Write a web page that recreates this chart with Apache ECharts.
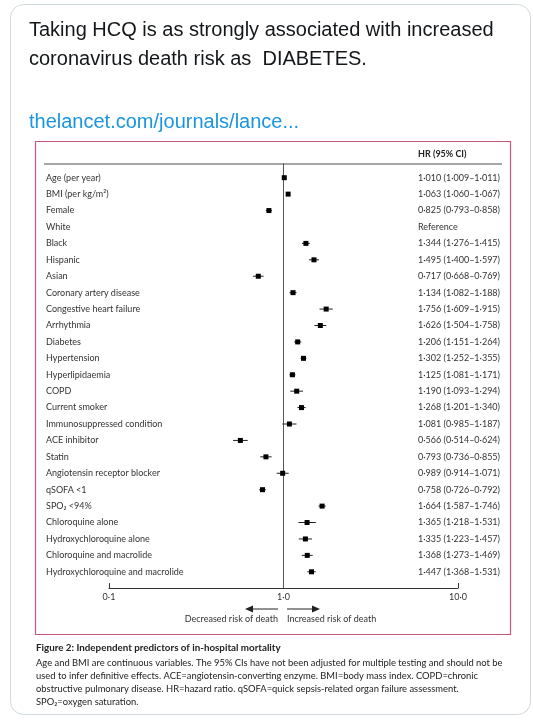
<!DOCTYPE html>
<html>
<head>
<meta charset="utf-8">
<script src="https://cdn.jsdelivr.net/npm/echarts@6/dist/echarts.min.js"></script>
<style>
html,body{margin:0;padding:0;background:#fff;}
#chart{width:533px;height:721px;}
</style>
</head>
<body>
<div id="chart"></div>
<script>
var labels = ["Age (per year)","BMI (per kg/m²)","Female","White","Black","Hispanic","Asian","Coronary artery disease","Congestive heart failure","Arrhythmia","Diabetes","Hypertension","Hyperlipidaemia","COPD","Current smoker","Immunosuppressed condition","ACE inhibitor","Statin","Angiotensin receptor blocker","qSOFA <1","SPO₂ <94%","Chloroquine alone","Hydroxychloroquine alone","Chloroquine and macrolide","Hydroxychloroquine and macrolide"];
var hr = [1.010,1.063,0.825,null,1.344,1.495,0.717,1.134,1.756,1.626,1.206,1.302,1.125,1.190,1.268,1.081,0.566,0.793,0.989,0.758,1.664,1.365,1.335,1.368,1.447];
var lo = [1.009,1.060,0.793,null,1.276,1.400,0.668,1.082,1.609,1.504,1.151,1.252,1.081,1.093,1.201,0.985,0.514,0.736,0.914,0.726,1.587,1.218,1.223,1.273,1.368];
var hi = [1.011,1.067,0.858,null,1.415,1.597,0.769,1.188,1.915,1.758,1.264,1.355,1.171,1.294,1.340,1.187,0.624,0.855,1.071,0.792,1.746,1.531,1.457,1.469,1.531];
var xTicks = [0.1, 1, 10];
var refText = "Reference";

function fmt(v){ return v.toFixed(3).replace('.', '·'); }
var hrText = hr.map(function(v,i){
  return v == null ? refText : fmt(v) + ' (' + fmt(lo[i]) + '–' + fmt(hi[i]) + ')';
});
var ciData = [];
hr.forEach(function(v,i){ if(v != null) ciData.push([lo[i], hi[i], v, i]); });

var FF = 'Lato, "Open Sans", sans-serif';
var TC = '#333';
var chart = echarts.init(document.getElementById('chart'), null, {renderer:'canvas'});

var option = {
  animation:false,
  backgroundColor:'#fff',
  grid:[
    {left:109, right:75, top:169.5, bottom:141},
    {left:109, right:75, top:163.5, bottom:133}
  ],
  xAxis:[
    {type:'log', logBase:10, min:0.1, max:10, gridIndex:0, offset:8,
     axisLine:{show:true, lineStyle:{color:'#333', width:1}},
     axisTick:{show:true, inside:true, length:5, lineStyle:{color:'#333'}},
     axisLabel:{margin:5, fontFamily:FF, fontSize:9, color:TC,
       formatter:function(v){
         for (var k=0;k<xTicks.length;k++){ if (Math.abs(v-xTicks[k])<1e-9) return xTicks[k].toFixed(1).replace('.', '·'); }
         return '';
       }},
     splitLine:{show:false}},
    {type:'log', logBase:10, min:0.1, max:10, gridIndex:1, show:false}
  ],
  yAxis:[
    {type:'category', data:labels, inverse:true, gridIndex:0, position:'left',
     axisLine:{show:false}, axisTick:{show:false},
     axisLabel:{align:'left', margin:63, fontFamily:FF, fontSize:9, color:TC}},
    {type:'category', data:hrText, inverse:true, gridIndex:0, position:'right', offset:-40,
     axisLine:{show:false}, axisTick:{show:false},
     axisLabel:{align:'left', margin:0, fontFamily:FF, fontSize:9, color:TC}},
    {type:'value', min:0, max:1, gridIndex:1, show:false}
  ],
  series:[
    {type:'line', xAxisIndex:1, yAxisIndex:2, data:[[1,0],[1,1]], symbol:'none',
     lineStyle:{color:'#555', width:1}, silent:true, z:1},
    {type:'custom', xAxisIndex:0, yAxisIndex:0, data:ciData,
     encode:{x:[0,1,2], y:3}, z:3,
     renderItem:function(params, api){
       var p1 = api.coord([api.value(0), api.value(3)]);
       var p2 = api.coord([api.value(1), api.value(3)]);
       var pc = api.coord([api.value(2), api.value(3)]);
       var s = 5;
       return {type:'group', children:[
         {type:'line', shape:{x1:p1[0], y1:p1[1], x2:p2[0], y2:p2[1]}, style:{stroke:'#222', lineWidth:1}},
         {type:'rect', shape:{x:pc[0]-s/2, y:pc[1]-s/2, width:s, height:s}, style:{fill:'#000'}}
       ]};
     }}
  ],
  graphic:[
    {type:'rect', shape:{x:10.5, y:4.5, width:520, height:710, r:13}, style:{fill:'none', stroke:'#cfd9de', lineWidth:1}, z:-10},
    {type:'text', left:29, top:20, style:{text:'Taking HCQ is as strongly associated with increased', font:'20px "Liberation Sans", Arial, sans-serif', fill:'#14171a'}},
    {type:'text', left:29, top:49, style:{text:'coronavirus death risk as  DIABETES.', font:'20px "Liberation Sans", Arial, sans-serif', fill:'#14171a'}},
    {type:'text', left:29, top:112, style:{text:'thelancet.com/journals/lance...', font:'20px "Liberation Sans", Arial, sans-serif', fill:'#1b95e0'}},
    {type:'rect', shape:{x:35.5, y:141.5, width:475, height:493}, style:{fill:'none', stroke:'#c9557a', lineWidth:1.2}, z:-5},
    {type:'line', shape:{x1:44, y1:164, x2:502, y2:164}, style:{stroke:'#888', lineWidth:1.5}},
    {type:'text', left:418, top:150, style:{text:'HR (95% CI)', font:'bold 9px Lato, sans-serif', fill:'#222'}},
    {type:'line', shape:{x1:278, y1:609, x2:252, y2:609}, style:{stroke:'#222', lineWidth:1}},
    {type:'polygon', shape:{points:[[245,609],[253,605.5],[253,612.5]]}, style:{fill:'#222'}},
    {type:'line', shape:{x1:287, y1:609, x2:313, y2:609}, style:{stroke:'#222', lineWidth:1}},
    {type:'polygon', shape:{points:[[320,609],[312,605.5],[312,612.5]]}, style:{fill:'#222'}},
    {type:'text', right:533-278, top:615, style:{text:'Decreased risk of death', font:'9px Lato, sans-serif', fill:TC, textAlign:'right'}},
    {type:'text', left:287, top:615, style:{text:'Increased risk of death', font:'9px Lato, sans-serif', fill:TC}},
    {type:'text', left:36, top:643, style:{text:'Figure 2: Independent predictors of in-hospital mortality', font:'bold 9.8px Lato, sans-serif', fill:'#222'}},
    {type:'text', left:36, top:658, style:{text:'Age and BMI are continuous variables. The 95% CIs have not been adjusted for multiple testing and should not be', font:'9.4px Lato, sans-serif', fill:'#222'}},
    {type:'text', left:36, top:671, style:{text:'used to infer definitive effects. ACE=angiotensin-converting enzyme. BMI=body mass index. COPD=chronic', font:'9.4px Lato, sans-serif', fill:'#222'}},
    {type:'text', left:36, top:684, style:{text:'obstructive pulmonary disease. HR=hazard ratio. qSOFA=quick sepsis-related organ failure assessment.', font:'9.4px Lato, sans-serif', fill:'#222'}},
    {type:'text', left:36, top:697, style:{text:'SPO₂=oxygen saturation.', font:'9.4px Lato, sans-serif', fill:'#222'}}
  ]
};
chart.setOption(option);
</script>
</body>
</html>
